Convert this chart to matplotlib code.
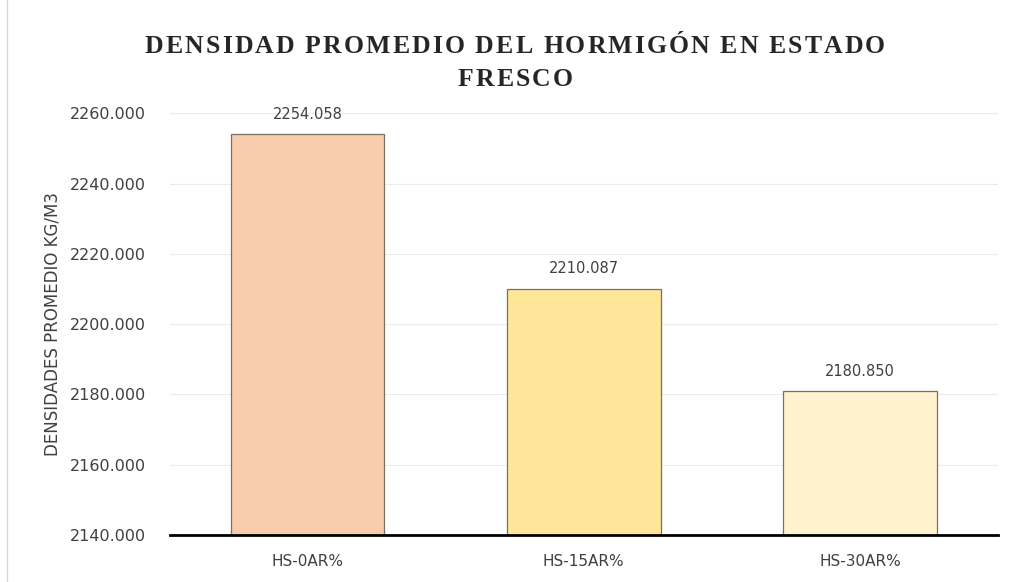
import matplotlib.pyplot as plt
from matplotlib.lines import Line2D
from matplotlib.font_manager import FontProperties

# data
categories = ["HS-0AR%", "HS-15AR%", "HS-30AR%"]
densities = [2254.058, 2210.087, 2180.850]
bar_colors = ["#F8CBAD", "#FFE699", "#FFF2CC"]
y_ticks = [2140, 2160, 2180, 2200, 2220, 2240, 2260]
title_lines = ["DENSIDAD PROMEDIO DEL HORMIGÓN EN ESTADO", "FRESCO"]

W, H = 1011, 582
fig = plt.figure(figsize=(W / 100, H / 100), dpi=100)
ax = fig.add_axes([0.1677, 0.0808, 0.8195, 0.7245])

x = range(len(categories))
bars = ax.bar(x, densities, width=0.556, color=bar_colors,
              edgecolor="#7a7060", linewidth=0.9, zorder=3)

ax.set_xlim(-0.5, len(categories) - 0.5)
ax.set_ylim(y_ticks[0], y_ticks[-1])
ax.set_yticks(y_ticks)
ax.set_yticklabels([f"{v:.3f}" for v in y_ticks])
ax.set_xticks(list(x))
ax.set_xticklabels(categories)

ax.grid(axis="y", color="#ebebeb", linewidth=0.8, zorder=0)
for s in ["top", "right", "left"]:
    ax.spines[s].set_visible(False)
ax.spines["bottom"].set_color("black")
ax.spines["bottom"].set_linewidth(2)
ax.spines["bottom"].set_zorder(4)

ax.tick_params(axis="y", length=0, pad=17, labelsize=11.5, labelcolor="#404040")
ax.tick_params(axis="x", length=0, pad=14, labelsize=11, labelcolor="#404040")

ax.set_ylabel("DENSIDADES PROMEDIO KG/M3", fontsize=12, color="#404040",
              labelpad=6)

# value labels
for b, v in zip(bars, densities):
    ax.annotate(f"{v:.3f}", (b.get_x() + b.get_width() / 2, v),
                xytext=(0, 9), textcoords="offset points",
                ha="center", va="bottom", fontsize=10.5, color="#404040")

# letter-spaced serif title, drawn char by char
renderer = fig.canvas.get_renderer()
tprop = FontProperties(family="Liberation Serif", weight="bold", size=18.5)
spacing = 2.1  # px between letters
for line, yc in zip(title_lines, [44, 77]):
    widths = [renderer.get_text_width_height_descent(ch, tprop, ismath=False)[0]
              for ch in line]
    total = sum(widths) + spacing * (len(line) - 1)
    xpos = 515 - total / 2
    for ch, w in zip(line, widths):
        fig.text(xpos / W, 1 - yc / H, ch, ha="left", va="center_baseline",
                 fontproperties=tprop, color="#262626")
        xpos += w + spacing

# chart frame on the left
fig.add_artist(Line2D([0.007, 0.007], [0, 1], color="#d9d9d9", linewidth=1))

fig.savefig("out.png", dpi=100)
